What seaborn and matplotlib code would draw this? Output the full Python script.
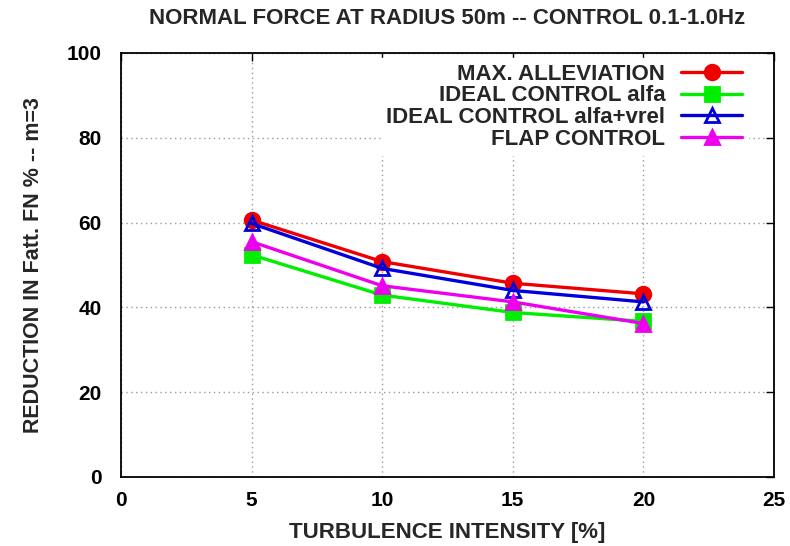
import matplotlib
matplotlib.use("Agg")
import matplotlib.pyplot as plt
import seaborn as sns
import pandas as pd

# Turbulence intensity [%] and load reduction for each control strategy
turbulence = [5, 10, 15, 20]
max_alleviation = [60.6, 50.8, 45.7, 43.2]
ideal_alfa = [52.4, 42.9, 38.8, 36.7]
ideal_alfa_vrel = [59.8, 49.2, 44.0, 41.3]
flap_control = [55.5, 45.1, 41.3, 36.2]

series_names = ["MAX. ALLEVIATION", "IDEAL CONTROL alfa",
                "IDEAL CONTROL alfa+vrel", "FLAP CONTROL"]
series_values = [max_alleviation, ideal_alfa, ideal_alfa_vrel, flap_control]
colors = ["#ee0000", "#00ee00", "#0000dd", "#ee00ee"]
markers = ["o", "s", "^", "^"]
facecolors = ["#ee0000", "#00ee00", "none", "#ee00ee"]

x_ticks = [0, 5, 10, 15, 20, 25]
y_ticks = [0, 20, 40, 60, 80, 100]

rows = []
for name, vals in zip(series_names, series_values):
    for t, v in zip(turbulence, vals):
        rows.append({"turb": t, "red": v, "series": name})
df = pd.DataFrame(rows)

sns.set_style("white")
plt.rcParams["font.family"] = ["Liberation Sans", "DejaVu Sans"]
plt.rcParams["font.weight"] = "bold"

fig = plt.figure(figsize=(7.9, 5.46), dpi=100)
ax = fig.add_axes([121 / 790, 1 - 477 / 546, 653 / 790, 424 / 546])

for name, col, mk, fc in zip(series_names, colors, markers, facecolors):
    sub = df[df["series"] == name]
    sns.lineplot(data=sub, x="turb", y="red", ax=ax, color=col, lw=2.4,
                 marker=mk, markersize=10.5 if mk != "^" else 10,
                 markerfacecolor=fc, markeredgecolor=col,
                 markeredgewidth=2, label=name, zorder=3)

ax.set_xlim(0, 25)
ax.set_ylim(0, 100)
ax.set_xticks(x_ticks)
ax.set_yticks(y_ticks)
ax.tick_params(direction="in", length=6, width=1, top=True, right=True,
               labelsize=15, colors="black")
ax.tick_params(axis="x", pad=10)
ax.tick_params(axis="y", pad=14)
for lab in ax.get_xticklabels() + ax.get_yticklabels():
    lab.set_fontweight("bold")
for sp in ax.spines.values():
    sp.set_color("black")
    sp.set_linewidth(1.3)

ax.grid(True, color="#999999", linestyle=(0, (1, 2.5)), linewidth=1)
ax.set_axisbelow(True)

fig.text(447 / 790, 1 - 18 / 546,
         "NORMAL FORCE AT RADIUS 50m -- CONTROL 0.1-1.0Hz",
         fontsize=16, fontweight="bold", ha="center", va="center")
ax.set_xlabel("TURBULENCE INTENSITY [%]", fontsize=16, fontweight="bold",
              labelpad=9)
ax.set_ylabel("REDUCTION IN Fatt. FN % -- m=3", fontsize=15.5,
              fontweight="bold", labelpad=16)

leg = ax.legend(loc="upper right", bbox_to_anchor=(0.96, 0.988),
                markerfirst=False, frameon=True, framealpha=1,
                edgecolor="white", fancybox=False, fontsize=16,
                handlelength=2.75, handletextpad=0.72, labelspacing=0.03,
                borderpad=0.25, borderaxespad=0)
for t in leg.get_texts():
    t.set_fontweight("bold")
leg.set_zorder(5)

fig.savefig("out.png", dpi=100)
